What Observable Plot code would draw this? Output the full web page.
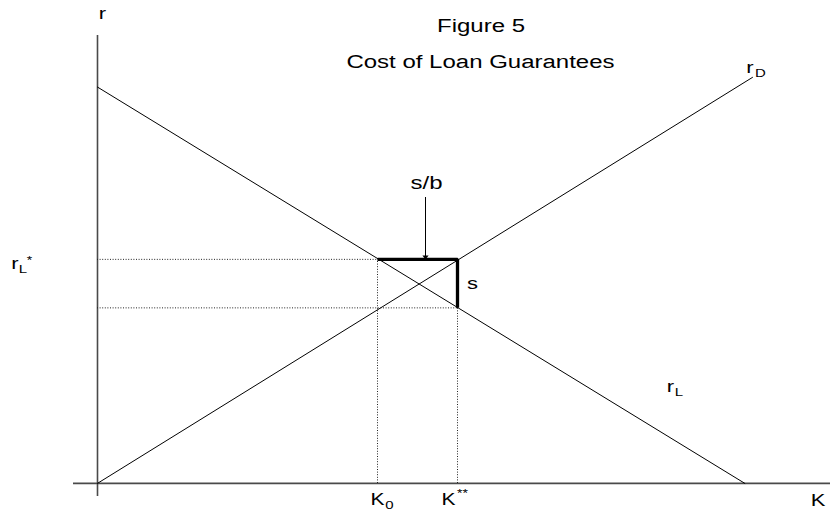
<!DOCTYPE html>
<html>
<head>
<meta charset="utf-8">
<script src="https://cdn.jsdelivr.net/npm/d3@7"></script>
<script src="https://cdn.jsdelivr.net/npm/@observablehq/plot@0.6"></script>
<style>
  html, body { margin: 0; padding: 0; background: #fff; }
  #chart svg { display: block; }
</style>
</head>
<body>
<div id="chart"></div>
<script>
// ---- Diagram values (K on the horizontal axis, r on the vertical axis) ----
const rLCurve = [{K: 0, r: 39.63}, {K: 64.73, r: 0}];      // loan demand r_L
const rDCurve = [{K: 0, r: 0}, {K: 65.5, r: 40.6}];        // deposit supply r_D
const K0 = 28.0;          // K_0
const Kstar2 = 36.0;      // K**
const rLstar = 22.4;      // r_L*
const rLow = 17.55;       // r_L at K**
const axisY = {K: 0, r1: -1.3, r2: 44.8};
const axisX = {r: 0, K1: -2.4, K2: 73.3};
const arrowSB = {K: 32.8, r1: 28.6, r2: 22.66};

// ---- Text annotations ----
const titleTexts = [
  {t: "Figure 5", K: 38.35, r: 45.7},
  {t: "Cost of Loan Guarantees", K: 38.3, r: 42.1},
  {t: "s/b", K: 32.9, r: 29.97}
];
const mainTexts = [
  {t: "r", K: 0.5, r: 46.92},
  {t: "r", K: 65.25, r: 41.52},
  {t: "r", K: 57.3, r: 9.62},
  {t: "r", K: -8.25, r: 21.92},
  {t: "s", K: 37.5, r: 20.0},
  {t: "K", K: 72.05, r: -1.72}
];
const kTexts = [
  {t: "K", K: 28.0, r: -1.7},
  {t: "K", K: 35.1, r: -1.7}
];
const subTexts = [
  {t: "D", K: 66.3, r: 40.96},
  {t: "L", K: 58.15, r: 9.06},
  {t: "L", K: -7.45, r: 21.36},
  {t: "0", K: 29.2, r: -2.2}
];
const supTexts = [
  {t: "*", K: -6.8, r: 22.24},
  {t: "**", K: 36.5, r: -1.05}
];

const W = 830, H = 690, DISPLAY_H = 512;
const dots = "1,1.6";

const plot = Plot.plot({
  width: W,
  height: H,
  margin: 0,
  x: {domain: [-9.7, 73.3], axis: null},
  y: {domain: [-2.9, 48.3], axis: null},
  style: {fontFamily: "'Liberation Sans', Arial, sans-serif", background: "#fff", color: "#000"},
  marks: [
    // axes
    Plot.ruleX([axisY], {x: "K", y1: "r1", y2: "r2", stroke: "#4a4a4a", strokeWidth: 1.6}),
    Plot.ruleY([axisX], {y: "r", x1: "K1", x2: "K2", stroke: "#4a4a4a", strokeWidth: 1.6}),
    // dotted guide lines
    Plot.ruleY([rLstar], {x1: 0, x2: K0, stroke: "#222", strokeWidth: 1, strokeDasharray: dots}),
    Plot.ruleY([rLow], {x1: 0, x2: Kstar2, stroke: "#222", strokeWidth: 1, strokeDasharray: dots}),
    Plot.ruleX([K0], {y1: 0, y2: rLstar, stroke: "#222", strokeWidth: 1, strokeDasharray: dots}),
    Plot.ruleX([Kstar2], {y1: 0, y2: rLow, stroke: "#222", strokeWidth: 1, strokeDasharray: dots}),
    // curves
    Plot.line(rLCurve, {x: "K", y: "r", stroke: "#000", strokeWidth: 1}),
    Plot.line(rDCurve, {x: "K", y: "r", stroke: "#000", strokeWidth: 1}),
    // bold cost segments
    Plot.line([{K: K0, r: rLstar}, {K: Kstar2, r: rLstar}, {K: Kstar2, r: rLow}],
      {x: "K", y: "r", stroke: "#000", strokeWidth: 3.3, strokeLinejoin: "miter", strokeLinecap: "butt"}),
    // arrow s/b
    Plot.ruleX([arrowSB], {x: "K", y1: "r1", y2: "r2", stroke: "#000", strokeWidth: 1}),
    Plot.dot([arrowSB], {x: "K", y: "r2", symbol: "triangle", r: 2.3, fill: "#000", stroke: "none", rotate: 180}),
    // texts
    Plot.text(titleTexts, {x: "K", y: "r", text: "t", fontSize: 24, fill: "#000"}),
    Plot.text(mainTexts, {x: "K", y: "r", text: "t", fontSize: 22, fill: "#000"}),
    Plot.text(kTexts, {x: "K", y: "r", text: "t", fontSize: 21, fill: "#000"}),
    Plot.text(subTexts, {x: "K", y: "r", text: "t", fontSize: 15, fill: "#000"}),
    Plot.text(supTexts, {x: "K", y: "r", text: "t", fontSize: 14, fill: "#000"})
  ]
});

// The reference is vertically compressed: draw at 830x690 and display at 830x512.
plot.setAttribute("viewBox", `0 0 ${W} ${H}`);
plot.setAttribute("height", DISPLAY_H);
plot.setAttribute("width", W);
plot.setAttribute("preserveAspectRatio", "none");
plot.querySelectorAll("path, line").forEach(el => {
  if (el.closest("g[aria-label='dot']")) return;
  el.setAttribute("vector-effect", "non-scaling-stroke");
});
document.getElementById("chart").appendChild(plot);
</script>
</body>
</html>
